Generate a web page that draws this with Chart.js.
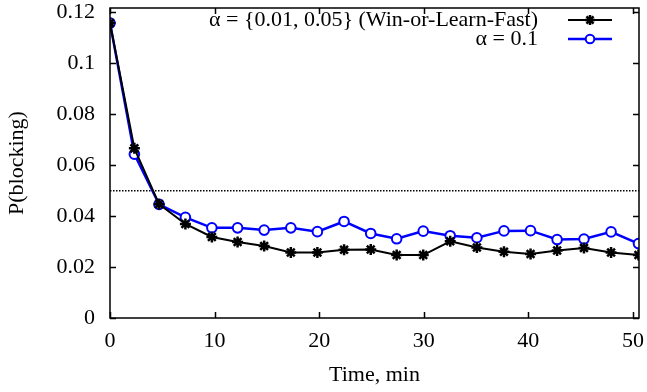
<!DOCTYPE html>
<html>
<head>
<meta charset="utf-8">
<script src="https://cdn.jsdelivr.net/npm/chart.js@4"></script>
<style>
  html, body { margin: 0; padding: 0; background: #fff; }
  #wrap { width: 647px; height: 392px; }
</style>
</head>
<body>
<div id="wrap"><canvas id="canvas" width="647" height="392"></canvas></div>
<script>
// time in minutes
var times = [0, 2.33, 4.69, 7.21, 9.74, 12.2, 14.74, 17.29, 19.83, 22.38, 24.93,
             27.41, 29.95, 32.53, 35.08, 37.67, 40.21, 42.75, 45.32, 47.91, 50.53];
// P(blocking), alpha = {0.01, 0.05} (Win-or-Learn-Fast)
var winLearnFast = [0.1158, 0.0666, 0.0447, 0.0369, 0.0318, 0.0298, 0.0283, 0.0257, 0.0257, 0.0268, 0.0269,
                    0.0247, 0.0247, 0.0301, 0.0277, 0.0260, 0.0251, 0.0265, 0.0275, 0.0257, 0.0247];
// P(blocking), alpha = 0.1
var alphaFixed = [0.1158, 0.0643, 0.0446, 0.0395, 0.0354, 0.0354, 0.0345, 0.0354, 0.0339, 0.0379, 0.0332,
                  0.0311, 0.0341, 0.0323, 0.0315, 0.0342, 0.0343, 0.0308, 0.0310, 0.0338, 0.0292];
var seriesLabels = ["α = {0.01, 0.05} (Win-or-Learn-Fast)", "α = 0.1"];
var threshold = 0.05;
var xTicks = [0, 10, 20, 30, 40, 50];
var yTicks = [0, 0.02, 0.04, 0.06, 0.08, 0.1, 0.12];
var xMax = 50.58;
var yMax = 0.1217;

var FONT = "'Liberation Serif', 'DejaVu Serif', serif";

function toPoints(xs, ys) {
	return xs.map(function(x, i) { return { x: x, y: ys[i] }; });
}

// gnuplot style frame: border + inward ticks on all four sides
var framePlugin = {
	id: "frame",
	afterDatasetsDraw: function(chart) {
		var ctx = chart.ctx, a = chart.chartArea;
		var xs = chart.scales.x, ys = chart.scales.y;
		var len = 6;
		ctx.save();
		ctx.setLineDash([]);
		ctx.strokeStyle = "#000";
		ctx.lineWidth = 1.5;
		ctx.beginPath();
		xTicks.forEach(function(v) {
			var px = Math.round(xs.getPixelForValue(v)) + 0.5;
			ctx.moveTo(px, a.bottom); ctx.lineTo(px, a.bottom - len);
			ctx.moveTo(px, a.top); ctx.lineTo(px, a.top + len);
		});
		yTicks.forEach(function(v) {
			var py = Math.round(ys.getPixelForValue(v)) + 0.5;
			ctx.moveTo(a.left, py); ctx.lineTo(a.left + len, py);
			ctx.moveTo(a.right, py); ctx.lineTo(a.right - len, py);
		});
		ctx.stroke();
		ctx.strokeRect(a.left, a.top, a.right - a.left, a.bottom - a.top);
		ctx.restore();
	}
};

// legend in the top right corner, text right aligned, sample to the right
var keyPlugin = {
	id: "key",
	afterDraw: function(chart) {
		var ctx = chart.ctx;
		var textRight = 538, lineL = 568, lineR = 612;
		var rows = [20, 39];
		ctx.save();
		ctx.setLineDash([]);
		ctx.font = "22px " + FONT;
		ctx.textAlign = "right";
		ctx.textBaseline = "middle";
		[0, 1].forEach(function(i) {
			var ds = chart.data.datasets[i];
			var y = rows[i];
			ctx.fillStyle = "#000";
			ctx.fillText(ds.label, textRight, y);
			ctx.strokeStyle = ds.borderColor;
			ctx.lineWidth = ds.borderWidth;
			ctx.beginPath();
			ctx.moveTo(lineL, y); ctx.lineTo(lineR, y);
			ctx.stroke();
			ctx.fillStyle = ds.pointBackgroundColor;
			ctx.strokeStyle = ds.pointBorderColor;
			ctx.lineWidth = ds.pointBorderWidth;
			Chart.helpers.drawPoint(ctx, {
				pointStyle: ds.pointStyle,
				radius: ds.pointRadius - 0.5,
				borderWidth: ds.pointBorderWidth,
				rotation: 0
			}, (lineL + lineR) / 2, y);
		});
		ctx.restore();
	}
};

var ctx = document.getElementById("canvas").getContext("2d");
var chart = new Chart(ctx, {
	type: "line",
	data: {
		datasets: [{
			label: seriesLabels[0],
			data: toPoints(times, winLearnFast),
			borderColor: "#000",
			borderWidth: 2,
			pointStyle: "star",
			pointRadius: 5.5,
			pointBorderWidth: 2.5,
			pointBorderColor: "#000",
			pointBackgroundColor: "#000",
			tension: 0
		}, {
			label: seriesLabels[1],
			data: toPoints(times, alphaFixed),
			borderColor: "#0000ff",
			borderWidth: 2.5,
			pointStyle: "circle",
			pointRadius: 4.8,
			pointBorderWidth: 2,
			pointBorderColor: "#0000ff",
			pointBackgroundColor: "#fff",
			tension: 0
		}, {
			label: "threshold",
			data: [{ x: 0, y: threshold }, { x: xMax, y: threshold }],
			borderColor: "#000",
			borderWidth: 1.5,
			borderDash: [1.5, 1.5],
			pointRadius: 0
		}]
	},
	options: {
		responsive: false,
		animation: false,
		layout: { padding: { left: 0, right: 8, top: 8, bottom: 0 } },
		plugins: {
			legend: { display: false },
			tooltip: { enabled: false }
		},
		scales: {
			x: {
				type: "linear",
				min: 0,
				max: xMax,
				afterBuildTicks: function(s) { s.ticks = xTicks.map(function(v) { return { value: v }; }); },
				afterFit: function(s) { s.height = 74; s.paddingLeft = 0; s.paddingRight = 0; },
				grid: { display: false, drawTicks: false },
				border: { display: false },
				ticks: { color: "#000", padding: 10, maxRotation: 0, font: { family: FONT, size: 22 } },
				title: { display: true, text: "Time, min", color: "#000", padding: { top: 0, bottom: 4 }, font: { family: FONT, size: 22 } }
			},
			y: {
				type: "linear",
				min: 0,
				max: yMax,
				afterBuildTicks: function(s) { s.ticks = yTicks.map(function(v) { return { value: v }; }); },
				afterFit: function(s) { s.width = 110; s.paddingTop = 0; s.paddingBottom = 0; },
				grid: { display: false, drawTicks: false },
				border: { display: false },
				ticks: { color: "#000", padding: 15, font: { family: FONT, size: 22 },
					callback: function(v) { return String(Math.round(v * 100) / 100); } },
				title: { display: true, text: "P(blocking)", color: "#000", padding: { top: 4, bottom: 0 }, font: { family: FONT, size: 22 } }
			}
		}
	},
	plugins: [framePlugin, keyPlugin]
});
</script>
</body>
</html>
